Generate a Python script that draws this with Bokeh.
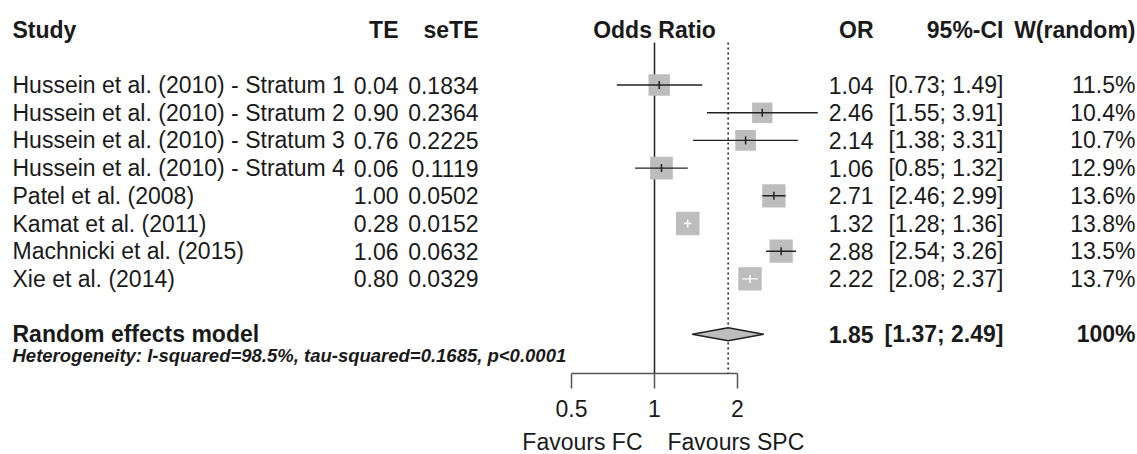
import math
from bokeh.plotting import figure
from bokeh.layouts import column
from bokeh.models import (Range1d, LogScale, LogAxis, FixedTicker, ColumnDataSource)
from bokeh.core.properties import value
from bokeh.embed import file_html
from bokeh.resources import INLINE

# ---------------- data ----------------
studies = [
    "Hussein et al. (2010) - Stratum 1",
    "Hussein et al. (2010) - Stratum 2",
    "Hussein et al. (2010) - Stratum 3",
    "Hussein et al. (2010) - Stratum 4",
    "Patel et al. (2008)",
    "Kamat et al. (2011)",
    "Machnicki et al. (2015)",
    "Xie et al. (2014)",
]
te = [0.04, 0.90, 0.76, 0.06, 1.00, 0.28, 1.06, 0.80]
se_te = [0.1834, 0.2364, 0.2225, 0.1119, 0.0502, 0.0152, 0.0632, 0.0329]
odds_ratio = [1.04, 2.46, 2.14, 1.06, 2.71, 1.32, 2.88, 2.22]
ci_lower = [0.73, 1.55, 1.38, 0.85, 2.46, 1.28, 2.54, 2.08]
ci_upper = [1.49, 3.91, 3.31, 1.32, 2.99, 1.36, 3.26, 2.37]
weight_random = [11.5, 10.4, 10.7, 12.9, 13.6, 13.8, 13.5, 13.7]

pooled_label = "Random effects model"
pooled_or = 1.85
pooled_lower = 1.37
pooled_upper = 2.49
pooled_weight = 100
heterogeneity = "Heterogeneity: I-squared=98.5%, tau-squared=0.1685, p<0.0001"

headers = ["Study", "TE", "seTE", "Odds Ratio", "OR", "95%-CI", "W(random)"]
axis_ticks = [0.5, 1, 2]
axis_tick_labels = ["0.5", "1", "2"]
favours = ["Favours FC", "Favours SPC"]

# ---------------- layout / style ----------------
W = 1137
H1 = 426                 # main figure height
H2 = 28                  # strip below for the "Favours" labels
AXIS_Y = 373             # px of the axis line (frame bottom)
BOTTOM = H1 - AXIS_Y
ROW_PX = 27.7
ROW0 = 29.1
ONE_PX = 654.0           # px where OR = 1
DOUBLING_PX = 83.0       # px per doubling of OR
FONT = "Liberation Sans"
FS = "23px"
TXT = "#1a1a1a"
SQ_K = 6.32
BOX = "#bdbdbd"

X_STUDY, X_TE, X_SETE = 12, 398, 478
X_OR, X_CI, X_W = 873, 1003, 1135

row_header = 0
study_rows = [2 + i for i in range(len(studies))]
pooled_row = study_rows[-1] + 2
het_row = pooled_row + 0.76
ref_top = 0.47
y_bottom = (AXIS_Y - ROW0) / ROW_PX
y_top = -ROW0 / ROW_PX

or_range = Range1d(2 ** (-ONE_PX / DOUBLING_PX), 2 ** ((W - ONE_PX) / DOUBLING_PX))

p = figure(width=W, height=H1, x_range=Range1d(0, W),
           y_range=Range1d(y_bottom, y_top),
           output_backend="svg", toolbar_location=None,
           x_axis_location=None, y_axis_location=None,
           min_border_left=0, min_border_right=0, min_border_top=0,
           min_border_bottom=BOTTOM, outline_line_color=None,
           background_fill_color="white", border_fill_color="white")
p.grid.visible = False
p.extra_x_ranges = {"or": or_range}
p.extra_x_scales = {"or": LogScale()}


def txt(fig, x, y, t, align, bold=False, italic=False, size=FS, rng="default", xoff=0):
    style = "bold italic" if (bold and italic) else ("bold" if bold else ("italic" if italic else "normal"))
    src = ColumnDataSource(dict(x=x, y=y, t=t))
    fig.text(x="x", y="y", text="t", source=src, text_font=value(FONT),
             text_font_size=value(size), text_font_style=style,
             text_align=align, text_baseline="middle", text_color=TXT,
             x_range_name=rng, x_offset=xoff)


# headers
txt(p, [X_STUDY], [row_header], [headers[0]], "left", bold=True)
txt(p, [X_TE, X_SETE, X_OR, X_CI, X_W], [row_header] * 5,
    [headers[1], headers[2], headers[4], headers[5], headers[6]], "right", bold=True)
txt(p, [1], [row_header], [headers[3]], "center", bold=True, rng="or")

# study rows
txt(p, [X_STUDY] * len(studies), study_rows, studies, "left")
txt(p, [X_TE] * len(te), study_rows, ["%.2f" % v for v in te], "right")
txt(p, [X_SETE] * len(se_te), study_rows, ["%.4f" % v for v in se_te], "right")
txt(p, [X_OR] * len(odds_ratio), study_rows, ["%.2f" % v for v in odds_ratio], "right")
txt(p, [X_CI] * len(ci_lower), study_rows,
    ["[%.2f; %.2f]" % (a, b) for a, b in zip(ci_lower, ci_upper)], "right")
txt(p, [X_W] * len(weight_random), study_rows, ["%.1f%%" % w for w in weight_random], "right")

# pooled row
txt(p, [X_STUDY], [pooled_row], [pooled_label], "left", bold=True)
txt(p, [X_OR, X_CI, X_W], [pooled_row] * 3,
    ["%.2f" % pooled_or, "[%.2f; %.2f]" % (pooled_lower, pooled_upper), "%d%%" % pooled_weight],
    "right", bold=True)
txt(p, [X_STUDY], [het_row], [heterogeneity], "left", bold=True, italic=True, size="18.5px")

# reference lines
p.segment(x0=[1], x1=[1], y0=[ref_top], y1=[y_bottom + 1], line_color="#222222",
          line_width=1.5, x_range_name="or")
p.segment(x0=[pooled_or], x1=[pooled_or], y0=[ref_top], y1=[y_bottom + 1],
          line_color="#222222", line_width=1.6, line_dash="2 3", x_range_name="or")

# squares / CIs
sizes = [SQ_K * math.sqrt(w) for w in weight_random]
ci_px = [math.log2(b / a) * DOUBLING_PX for a, b in zip(ci_lower, ci_upper)]
line_cols = ["white" if c <= s else "#222222" for c, s in zip(ci_px, sizes)]
fsrc = ColumnDataSource(dict(y=study_rows, est=odds_ratio, lo=ci_lower, hi=ci_upper,
                             sz=sizes, lc=line_cols))
p.scatter(x="est", y="y", size="sz", marker="square", fill_color=BOX, line_color=None,
          source=fsrc, x_range_name="or")
p.segment(x0="lo", x1="hi", y0="y", y1="y", line_color="lc", line_width=1.4,
          source=fsrc, x_range_name="or")
p.scatter(x="est", y="y", size=8, marker="dash", angle=math.pi / 2, line_color="lc",
          line_width=1.5, source=fsrc, x_range_name="or")

# diamond
h = 0.235
p.patch(x=[pooled_lower, pooled_or, pooled_upper, pooled_or],
        y=[pooled_row, pooled_row - h, pooled_row, pooled_row + h],
        fill_color=BOX, line_color="#222222", line_width=1.4, x_range_name="or")

# axis
ax = LogAxis(x_range_name="or", ticker=FixedTicker(ticks=axis_ticks, minor_ticks=[]),
             bounds=(min(axis_ticks), max(axis_ticks)),
             major_label_overrides={float(t): l for t, l in zip(axis_ticks, axis_tick_labels)},
             axis_line_color="#555555", axis_line_width=1.5,
             major_tick_line_color="#555555", major_tick_line_width=1.5,
             major_tick_in=0, major_tick_out=15, minor_tick_line_color=None,
             major_label_standoff=11, major_label_text_font=FONT,
             major_label_text_font_size=FS, major_label_text_color=TXT)
p.add_layout(ax, "below")

# strip with the "Favours" labels, sharing the OR scale
p2 = figure(width=W, height=H2, x_range=Range1d(0, W), y_range=Range1d(0, 1),
            output_backend="svg", toolbar_location=None,
            x_axis_location=None, y_axis_location=None,
            min_border_left=0, min_border_right=0, min_border_top=0,
            min_border_bottom=0, outline_line_color=None,
            background_fill_color="white", border_fill_color="white")
p2.grid.visible = False
p2.extra_x_ranges = {"or": or_range}
p2.extra_x_scales = {"or": LogScale()}
txt(p2, [1], [0.45], [favours[0]], "right", rng="or", xoff=-12)
txt(p2, [1], [0.45], [favours[1]], "left", rng="or", xoff=13)

layout = column(p, p2, spacing=0)
open("out.html", "w").write(file_html(layout, INLINE))
